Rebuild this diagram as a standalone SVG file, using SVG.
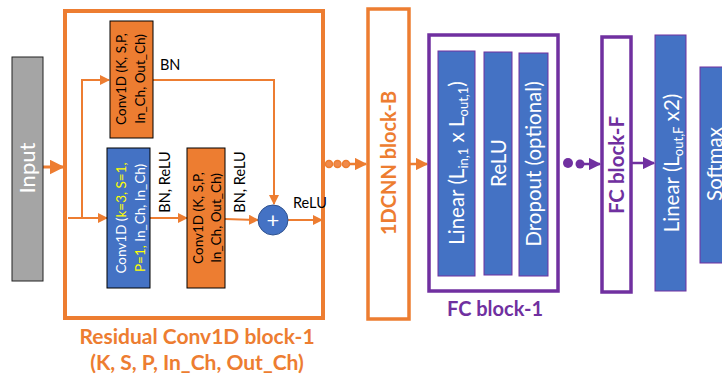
<svg xmlns="http://www.w3.org/2000/svg" width="722" height="375" viewBox="0 0 722 375">
<style>
text{font-family:Lato,"Liberation Sans",sans-serif}
.ob{fill:#ED7D31;stroke:#000;stroke-width:1}
.bb{fill:#4472C4;stroke:#000;stroke-width:1}
.fb{fill:#4472C4;stroke:#7030A0;stroke-width:1}
.ow{fill:none;stroke:#ED7D31;stroke-width:4}
.pw{fill:none;stroke:#7030A0;stroke-width:3.5}
.ln{fill:none;stroke:#ED7D31;stroke-width:2}
.pl{fill:none;stroke:#7030A0;stroke-width:2.5}
.t13{font-size:13.5px;fill:#000}
.t14{font-size:14.5px;fill:#000}
.w13{font-size:13.5px;fill:#fff}
.y{fill:#FFFF00}
.w20{font-size:20.5px;fill:#fff}
.bo{font-weight:bold;fill:#ED7D31;font-size:21px}
.bp{font-weight:bold;fill:#7030A0;font-size:20px}
</style>
<defs>
<marker id="ao" viewBox="0 0 10 10" refX="9" refY="5" markerWidth="5" markerHeight="5" orient="auto" markerUnits="strokeWidth"><path d="M0,0 L10,5 L0,10 z" fill="#ED7D31"/></marker>
<marker id="ap" viewBox="0 0 10 10" refX="9" refY="5" markerWidth="5" markerHeight="5" orient="auto" markerUnits="strokeWidth"><path d="M0,0 L10,5 L0,10 z" fill="#7030A0"/></marker>
</defs>

<g id="connectors">
<line class="ln" x1="43" y1="167" x2="63" y2="167" style="stroke-width:3" marker-end="url(#ao)"/>
<line class="ln" x1="68" y1="218" x2="107" y2="218" marker-end="url(#ao)"/>
<polyline class="ln" points="82,218 82,80 109,80" marker-end="url(#ao)"/>
<polyline class="ln" points="153,80 274,80 274,204" marker-end="url(#ao)"/>
<line class="ln" x1="150" y1="218" x2="187" y2="218" marker-end="url(#ao)"/>
<line class="ln" x1="225" y1="219" x2="258" y2="220" marker-end="url(#ao)"/>
<line class="ln" x1="288" y1="220" x2="322" y2="220" marker-end="url(#ao)"/>
<line class="ln" x1="349" y1="164" x2="366" y2="164" style="stroke-width:2.5" marker-end="url(#ao)"/>
<line class="ln" x1="409" y1="164" x2="427" y2="164" style="stroke-width:2.5" marker-end="url(#ao)"/>
<line class="pl" x1="583" y1="164" x2="600" y2="164" marker-end="url(#ap)"/>
<line class="pl" x1="631" y1="163" x2="654" y2="163" marker-end="url(#ap)"/>
<circle cx="329" cy="164" r="3.5" fill="#F08A4B" stroke="#ED7D31" stroke-width="1.5"/>
<circle cx="337.5" cy="164" r="3.5" fill="#F08A4B" stroke="#ED7D31" stroke-width="1.5"/>
<circle cx="346" cy="164" r="3.5" fill="#F08A4B" stroke="#ED7D31" stroke-width="1.5"/>
<circle cx="568" cy="163" r="5" fill="#7030A0"/>
<circle cx="580" cy="164" r="4.5" fill="#7030A0"/>
</g>

<g id="input">
<rect x="12" y="57" width="31" height="224" fill="#A5A5A5" stroke="#222" stroke-width="1"/>
<text class="w20" style="font-size:22px" transform="translate(35,168) rotate(-90)" text-anchor="middle">Input</text>
</g>

<g id="residual-block">
<rect class="ow" x="65" y="11" width="258" height="307"/>
<text class="bo" x="197" y="344" text-anchor="middle">Residual Conv1D block-1</text>
<text class="bo" x="197" y="370" text-anchor="middle">(K, S, P, In_Ch, Out_Ch)</text>
</g>

<g id="conv-top">
<rect class="ob" x="110" y="21" width="43" height="117"/>
<text class="t13" transform="translate(0,79) rotate(-90)" text-anchor="middle"><tspan x="0" y="126">Conv1D (K, S,P,</tspan><tspan x="0" y="145">In_Ch, Out_Ch)</tspan></text>
<text class="t14" x="160" y="70">BN</text>
</g>

<g id="conv-blue">
<rect class="bb" x="107" y="148" width="43" height="140"/>
<text class="w13" transform="translate(0,218) rotate(-90)" text-anchor="middle"><tspan x="0" y="126">Conv1D (<tspan class="y">k=3, S=1,</tspan></tspan><tspan x="0" y="145"><tspan class="y">P=1,</tspan> In_Ch, In_Ch)</tspan></text>
<text class="t14" transform="translate(170,182) rotate(-90)" text-anchor="middle">BN, ReLU</text>
</g>

<g id="conv-2">
<rect class="ob" x="187" y="148" width="38" height="140"/>
<text class="t13" transform="translate(0,218) rotate(-90)" text-anchor="middle"><tspan x="0" y="203">Conv1D (K, S,P,</tspan><tspan x="0" y="221">In_Ch, Out_Ch)</tspan></text>
<text class="t14" transform="translate(245,182) rotate(-90)" text-anchor="middle">BN, ReLU</text>
</g>

<g id="add">
<circle cx="273" cy="220" r="15" fill="#4472C4" stroke="#2F528F" stroke-width="1"/>
<text x="273" y="227.5" fill="#fff" font-size="22" text-anchor="middle">+</text>
<text class="t14" x="293" y="208">ReLU</text>
</g>

<g id="cnn-block-b">
<rect class="ow" x="368" y="9" width="41" height="310" style="stroke-width:3.5"/>
<text class="bo" style="font-size:20px" transform="translate(396,163) rotate(-90)" text-anchor="middle">1DCNN block-B</text>
</g>

<g id="fc-block-1">
<rect class="pw" x="429" y="35" width="129" height="256"/>
<rect class="fb" x="438" y="51" width="37" height="225"/>
<text class="w20" transform="translate(464,163) rotate(-90)" text-anchor="middle">Linear (L<tspan font-size="13" dy="4">in,1</tspan><tspan dy="-4"> x L</tspan><tspan font-size="13" dy="4">out,1</tspan><tspan dy="-4">)</tspan></text>
<rect class="fb" x="484" y="52" width="28" height="223"/>
<text class="w20" transform="translate(506,163) rotate(-90)" text-anchor="middle">ReLU</text>
<rect class="fb" x="519" y="53" width="29" height="223"/>
<text class="w20" transform="translate(541,164) rotate(-90)" text-anchor="middle">Dropout (optional)</text>
<text class="bp" x="495" y="316" text-anchor="middle">FC block-1</text>
</g>

<g id="fc-block-f">
<rect class="pw" x="602" y="37" width="29" height="255"/>
<text class="bp" style="font-size:20.5px" transform="translate(624,165) rotate(-90)" text-anchor="middle">FC block-F</text>
</g>

<g id="linear-f">
<rect class="fb" x="655" y="35" width="31" height="256"/>
<text class="w20" transform="translate(679,163) rotate(-90)" text-anchor="middle">Linear (L<tspan font-size="13" dy="4">out,F</tspan><tspan dy="-4"> x2)</tspan></text>
</g>

<g id="softmax">
<rect class="fb" x="700" y="67" width="40" height="196"/>
<text class="w20" transform="translate(722,164) rotate(-90)" text-anchor="middle">Softmax</text>
</g>
</svg>
